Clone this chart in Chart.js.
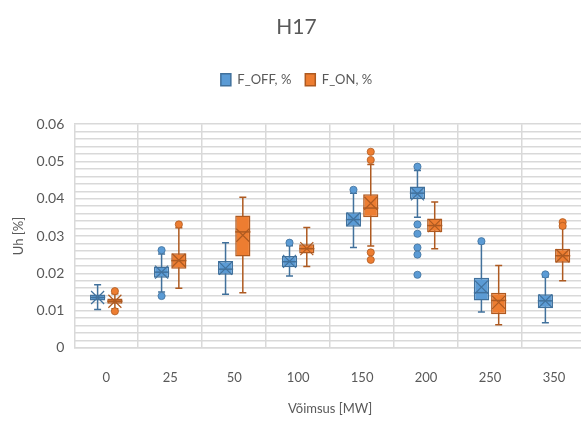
<!DOCTYPE html>
<html>
<head>
<meta charset="utf-8">
<script src="https://cdn.jsdelivr.net/npm/chart.js@4"></script>
<style>
  html, body { margin: 0; padding: 0; background: #fff; overflow: hidden; }
  #wrap { width: 600px; height: 421px; position: relative; }
</style>
</head>
<body>
<div id="wrap"><canvas id="c"></canvas></div>
<script>
// category labels (MW)
const categories = ['0', '25', '50', '100', '150', '200', '250', '350'];

// F_OFF, % — box statistics
const offMin  = [0.0103, 0.0150, 0.0144, 0.0193, 0.0269, 0.0350, 0.0096, 0.0067];
const offQ1   = [0.0127, 0.0188, 0.0196, 0.0216, 0.0325, 0.0399, 0.0127, 0.0106];
const offMed  = [0.0135, 0.0203, 0.0211, 0.0231, 0.0344, 0.0415, 0.0148, 0.0126];
const offQ3   = [0.0143, 0.0218, 0.0233, 0.0246, 0.0364, 0.0433, 0.0188, 0.0144];
const offMax  = [0.0169, 0.0252, 0.0282, 0.0274, 0.0415, 0.0476, 0.0280, 0.0190];
const offMean = [0.0135, 0.0203, 0.0213, 0.0232, 0.0345, 0.0413, 0.0163, 0.0126];
const offOut  = [[], [0.0262, 0.0139], [], [0.0282], [0.0424],
                 [0.0486, 0.0331, 0.0306, 0.0269, 0.0250, 0.0196], [0.0286], [0.0197]];

// F_ON, %
const onMin  = [0.0105, 0.0160, 0.0148, 0.0218, 0.0273, 0.0266, 0.0062, 0.0180];
const onQ1   = [0.0118, 0.0212, 0.0245, 0.0253, 0.0350, 0.0310, 0.0090, 0.0228];
const onMed  = [0.0125, 0.0234, 0.0311, 0.0266, 0.0375, 0.0328, 0.0127, 0.0247];
const onQ3   = [0.0132, 0.0254, 0.0355, 0.0278, 0.0412, 0.0347, 0.0148, 0.0266];
const onMax  = [0.0145, 0.0322, 0.0404, 0.0323, 0.0492, 0.0391, 0.0221, 0.0322];
const onMean = [0.0125, 0.0235, 0.0302, 0.0266, 0.0388, 0.0328, 0.0122, 0.0247];
const onOut  = [[0.0152, 0.0098], [0.0331], [], [], [0.0526, 0.0504, 0.0256, 0.0236],
                [], [], [0.0337, 0.0327]];

const FONT = "'Lato', 'Liberation Sans', sans-serif";
const TXT  = '#595959';
const GRID = '#d9d9d9';

const boxStats = [
  { min: offMin, med: offMed, max: offMax, mean: offMean, out: offOut,
    fill: '#5b9bd5', line: '#41719c' },
  { min: onMin, med: onMed, max: onMax, mean: onMean, out: onOut,
    fill: '#ed7d31', line: '#ae5a21' },
];

// extra room under the legend
const legendSpacer = {
  id: 'legendSpacer',
  beforeInit(chart) {
    const fit = chart.legend.fit;
    chart.legend.fit = function () {
      fit.bind(chart.legend)();
      this.height += 28;
    };
  },
};

// whiskers behind the boxes, median / mean / outliers on top
const boxPlot = {
  id: 'boxPlot',
  beforeDatasetsDraw(chart) {
    const { ctx, scales: { y } } = chart;
    ctx.save();
    boxStats.forEach((s, d) => {
      chart.getDatasetMeta(d).data.forEach((bar, i) => {
        const cap = 3.5;
        ctx.strokeStyle = s.line;
        ctx.lineWidth = 1.5;
        const yMax = y.getPixelForValue(s.max[i]);
        const yMin = y.getPixelForValue(s.min[i]);
        ctx.beginPath();
        ctx.moveTo(bar.x, yMax); ctx.lineTo(bar.x, yMin);
        ctx.moveTo(bar.x - cap, yMax); ctx.lineTo(bar.x + cap, yMax);
        ctx.moveTo(bar.x - cap, yMin); ctx.lineTo(bar.x + cap, yMin);
        ctx.stroke();
      });
    });
    ctx.restore();
  },
  afterDatasetsDraw(chart) {
    const { ctx, scales: { y } } = chart;
    ctx.save();
    boxStats.forEach((s, d) => {
      chart.getDatasetMeta(d).data.forEach((bar, i) => {
        const hw = bar.width / 2;
        ctx.strokeStyle = s.line;
        ctx.lineWidth = 1.5;
        const ym = y.getPixelForValue(s.med[i]);
        ctx.beginPath();
        ctx.moveTo(bar.x - hw, ym); ctx.lineTo(bar.x + hw, ym);
        ctx.stroke();
        // mean marker X
        const yc = y.getPixelForValue(s.mean[i]);
        const r = 6.5;
        ctx.lineWidth = 1.2;
        ctx.beginPath();
        ctx.moveTo(bar.x - r, yc - r); ctx.lineTo(bar.x + r, yc + r);
        ctx.moveTo(bar.x - r, yc + r); ctx.lineTo(bar.x + r, yc - r);
        ctx.stroke();
        // outliers
        ctx.fillStyle = s.fill;
        ctx.strokeStyle = s.line;
        ctx.lineWidth = 0.8;
        s.out[i].forEach(v => {
          ctx.beginPath();
          ctx.arc(bar.x, y.getPixelForValue(v), 3.6, 0, Math.PI * 2);
          ctx.fill();
          ctx.stroke();
        });
      });
    });
    ctx.restore();
  },
};

new Chart(document.getElementById('c'), {
  type: 'bar',
  data: {
    labels: categories,
    datasets: [
      { label: 'F_OFF, %', data: offQ1.map((q, i) => [q, offQ3[i]]),
        backgroundColor: '#5b9bd5', borderColor: '#41719c', borderWidth: 1.5,
        borderSkipped: false, barPercentage: 0.88, categoryPercentage: 0.54 },
      { label: 'F_ON, %', data: onQ1.map((q, i) => [q, onQ3[i]]),
        backgroundColor: '#ed7d31', borderColor: '#ae5a21', borderWidth: 1.5,
        borderSkipped: false, barPercentage: 0.88, categoryPercentage: 0.54 },
    ],
  },
  options: {
    responsive: true,
    maintainAspectRatio: false,
    animation: false,
    layout: { padding: { left: 7, right: 14, top: 6, bottom: 0 } },
    plugins: {
      title: {
        display: true, text: 'H17', color: TXT,
        font: { family: FONT, size: 21, weight: 'normal' },
        padding: { top: 9, bottom: 19 },
      },
      legend: {
        position: 'top',
        labels: {
          color: TXT, font: { family: FONT, size: 13 },
          boxWidth: 10, boxHeight: 12, padding: 14,
        },
      },
      tooltip: { enabled: false },
    },
    scales: {
      x: {
        grid: { color: GRID, lineWidth: 1.5, drawTicks: false },
        border: { color: GRID, width: 1.5 },
        ticks: { color: TXT, font: { family: FONT, size: 13 }, padding: 22 },
        title: { display: true, text: 'Võimsus [MW]', color: TXT,
          font: { family: FONT, size: 13 }, padding: { top: -6 } },
      },
      y: {
        min: 0, max: 0.06,
        grid: { color: GRID, lineWidth: 1.5, drawTicks: false },
        border: { display: false },
        ticks: {
          stepSize: 0.002, autoSkip: false, color: TXT,
          font: { family: FONT, size: 14 }, padding: 10,
          callback: v => {
            const k = Math.round(v / 0.002);
            if (k % 5 !== 0) return '';
            return k === 0 ? '0' : (k * 0.002).toFixed(2);
          },
        },
        title: { display: true, text: 'Uh [%]', color: TXT,
          font: { family: FONT, size: 13 }, padding: { bottom: 0 } },
      },
    },
  },
  plugins: [boxPlot, legendSpacer],
});
</script>
</body>
</html>
